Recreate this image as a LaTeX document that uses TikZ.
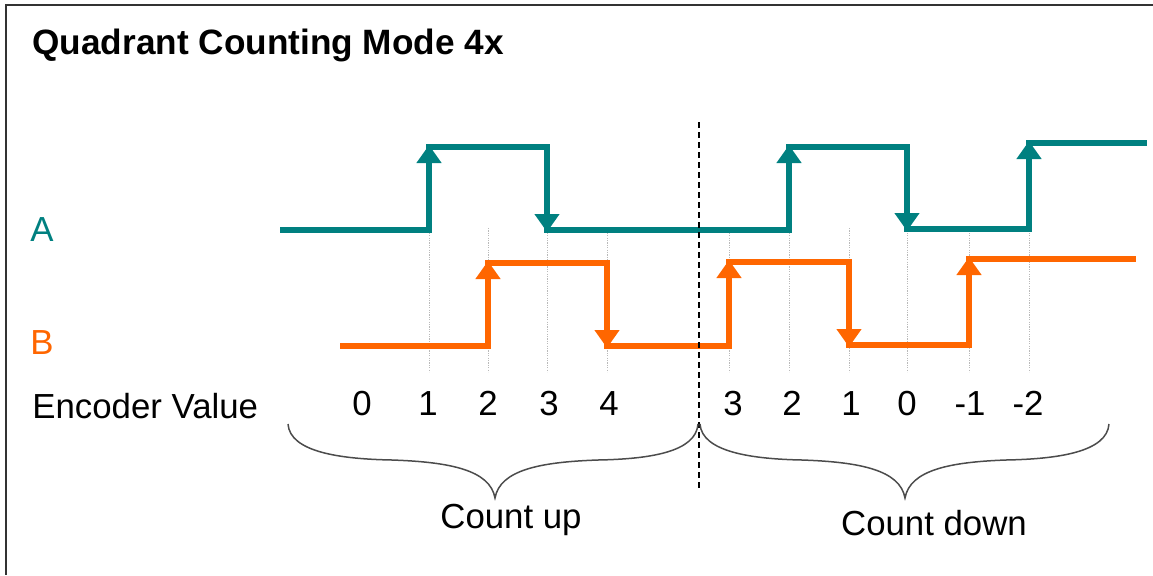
\documentclass[tikz,border=0pt]{standalone}
\usepackage{fontspec}
\setmainfont{Liberation Sans}
\usetikzlibrary{arrows.meta}
\definecolor{sigA}{RGB}{0,128,128}
\definecolor{sigB}{RGB}{255,102,0}
\begin{document}
\begin{tikzpicture}[x=0.5pt,y=-0.5pt,
  sig/.style={line width=2.75pt,line join=miter},
  edgearrow/.style={line width=2.75pt,-{Triangle[width=12pt,length=9pt]}},
  gridline/.style={gray!55,line width=0.5pt,dash pattern=on 0.6pt off 0.6pt},
  lbl/.style={font=\fontsize{17.4}{20}\selectfont,anchor=base,inner sep=0pt},
  bracestyle/.style={line width=0.75pt,draw=black!70},
  sepline/.style={line width=0.75pt,dash pattern=on 3pt off 2pt}]
\useasboundingbox (0,0) rectangle (1153,575);
% frame
\draw[line width=1pt,black!80] (1153,5) -- (6,5) -- (6,575);
% title
\node[anchor=base west,inner sep=0pt,font=\fontsize{17.6}{20}\selectfont\bfseries] (title) at (32,54) {Quadrant Counting Mode 4x};
% grid lines
\foreach \gx in {429,488,547,607,729,789,849,907,969,1029}
  \draw[gridline] (\gx,228) -- (\gx,372);
% signal A
\draw[sig,sigA] (280,230) -- (429,230) -- (429,147) -- (547,147) -- (547,230) -- (789,230) -- (789,147) -- (907,147) -- (907,229) -- (1029,229) -- (1029,143) -- (1147,143);
\draw[edgearrow,sigA] (429,230) -- (429,145);
\draw[edgearrow,sigA] (547,147) -- (547,232);
\draw[edgearrow,sigA] (789,230) -- (789,145);
\draw[edgearrow,sigA] (907,147) -- (907,231);
\draw[edgearrow,sigA] (1029,229) -- (1029,141);
% signal B
\draw[sig,sigB] (340,346) -- (488,346) -- (488,263) -- (607,263) -- (607,346) -- (729,346) -- (729,262) -- (849,262) -- (849,345) -- (969,345) -- (969,259) -- (1136,259);
\draw[edgearrow,sigB] (488,346) -- (488,261);
\draw[edgearrow,sigB] (607,263) -- (607,348);
\draw[edgearrow,sigB] (729,346) -- (729,260);
\draw[edgearrow,sigB] (849,262) -- (849,347);
\draw[edgearrow,sigB] (969,345) -- (969,257);
% separator
\draw[sepline] (699,122) -- (699,490);
% labels
\node[lbl,text=sigA] (labA) at (42,241) {A};
\node[lbl,text=sigB] (labB) at (42,354) {B};
\node[lbl,anchor=base west] (enc) at (32,418) {Encoder Value};
\foreach \nx/\nv [count=\i] in {362/0,428/1,488/2,549/3,609/4,733/3,792/2,851/1,907/0,970/-1,1028/-2}
  \node[lbl] (val\i) at (\nx,415) {\nv};
% braces
\draw[bracestyle] (288,424) .. controls (290,452) and (340,459) .. (392,460) .. controls (450,462) and (490,470) .. (495,498)
  .. controls (500,470) and (540,462) .. (598,460) .. controls (650,459) and (696,452) .. (698,424);
\draw[bracestyle] (700,424) .. controls (702,452) and (752,459) .. (802,460) .. controls (860,462) and (900,470) .. (905,498)
  .. controls (910,470) and (950,462) .. (1006,460) .. controls (1058,459) and (1107,452) .. (1109,424);
\node[lbl] (up) at (511,528) {Count up};
\node[lbl] (down) at (934,535) {Count down};
\end{tikzpicture}
\end{document}
